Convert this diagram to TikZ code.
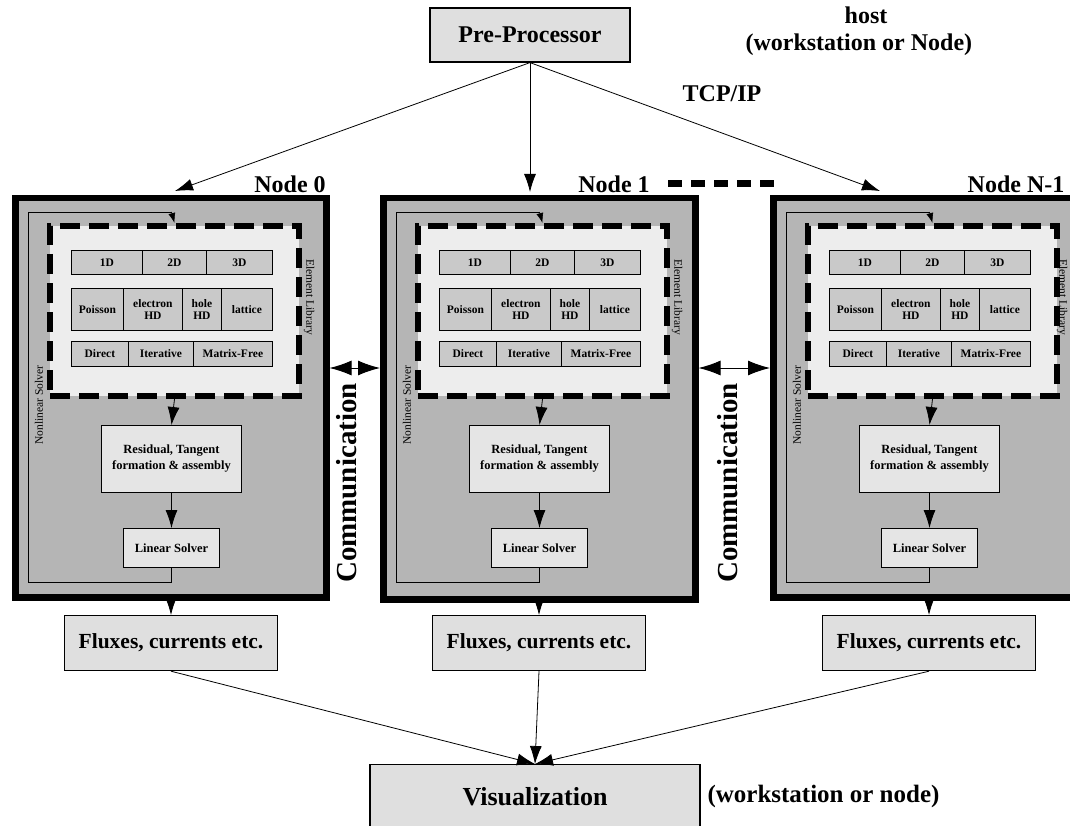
\documentclass[tikz,border=0pt]{standalone}
\usepackage{fontspec}
\setmainfont{Liberation Serif}
\usetikzlibrary{arrows.meta,calc}

\tikzset{
  bigtxt/.style={font=\bfseries\fontsize{24}{26}\selectfont},
  lbox/.style={draw=black, line width=1.2pt, fill=gray!25, inner sep=0pt},
  nodebox/.style={draw=black, line width=6.5pt, fill=gray!58, inner sep=0pt},
  libbox/.style={draw=black, line width=6pt, dash pattern=on 20pt off 9pt, fill=gray!14, inner sep=0pt},
  cell/.style={draw=black, line width=0.8pt, fill=gray!42, inner sep=0pt, anchor=north west,
    font=\bfseries\fontsize{11.5}{12}\selectfont, align=center},
  ibox/.style={draw=black, line width=0.8pt, fill=gray!20, inner sep=0pt, anchor=north,
    font=\bfseries\fontsize{12.5}{16}\selectfont, align=center},
  arr/.style={-{Latex[length=18pt,width=12pt]}, line width=0.8pt},
  sarr/.style={-{Latex[length=10pt,width=7pt]}, line width=0.6pt},
  commarr/.style={{Latex[length=22pt,width=15pt]}-{Latex[length=22pt,width=15pt]}, line width=1pt},
  loop/.style={line width=0.6pt},
  sidetxt/.style={font=\fontsize{11.5}{12}\selectfont, inner sep=1pt}
}

% #1 prefix, #2 left x, #3 width, #4 bottom y, #5 x of "Element Library"
\newcommand\NodeColumn[5]{%
\begin{scope}[xshift=#2pt]
  \node[nodebox, minimum width=#3pt, minimum height=#4pt-195pt, anchor=north west] (#1box) at (0,195) {};
  \node[libbox, minimum width=249pt, minimum height=170pt, anchor=north west] (#1lib) at (35,223) {};
  % row 1
  \node[cell, minimum width=71pt, minimum height=24pt] (#1c1) at (59,250) {1D};
  \node[cell, minimum width=64pt, minimum height=24pt] (#1c2) at (130,250) {2D};
  \node[cell, minimum width=66pt, minimum height=24pt] (#1c3) at (194,250) {3D};
  % row 2
  \node[cell, minimum width=52pt, minimum height=42pt] (#1c4) at (59,288) {Poisson};
  \node[cell, minimum width=59pt, minimum height=42pt] (#1c5) at (111,288) {electron\\HD};
  \node[cell, minimum width=39pt, minimum height=42pt] (#1c6) at (170,288) {hole\\HD};
  \node[cell, minimum width=51pt, minimum height=42pt] (#1c7) at (209,288) {lattice};
  % row 3
  \node[cell, minimum width=57pt, minimum height=25pt] (#1c8) at (59,341) {Direct};
  \node[cell, minimum width=65pt, minimum height=25pt] (#1c9) at (116,341) {Iterative};
  \node[cell, minimum width=79pt, minimum height=25pt] (#1c10) at (181,341) {Matrix-Free};
  % residual and linear solver
  \node[ibox, minimum width=140pt, minimum height=67pt] (#1res) at (159.5,425) {Residual, Tangent\\formation \& assembly};
  \node[ibox, minimum width=96pt, minimum height=39pt] (#1ls) at (159.5,528) {Linear Solver};
  \node[lbox, minimum width=213pt, minimum height=55pt, anchor=north,
        font=\bfseries\fontsize{21.5}{23}\selectfont] (#1flux) at (159,615) {Fluxes, currents etc.};
  % nonlinear solver loop
  \coordinate (#1lt) at (159.5,212);
  \coordinate (#1lb) at (16,582);
  \draw[loop] (#1ls.south) |- (#1lb) |- (#1lt);
  \draw[sarr] (#1lt) -- (#1lib.north);
  \draw[arr] (#1lib.south) -- (#1res.north);
  \draw[arr] (#1res.south) -- (#1ls.north);
  \draw[arr] (#1flux.north |- #1box.south) -- (#1flux.north);
  \node[sidetxt, rotate=90] (#1nls) at (27,405) {Nonlinear Solver};
  \node[sidetxt, rotate=-90] (#1elib) at (#5,297) {Element Library};
\end{scope}}

\begin{document}
\begin{tikzpicture}[x=1pt,y=-1pt]
\useasboundingbox (0,0) rectangle (1070,826);

% top
\node[lbox, minimum width=200pt, minimum height=54pt, bigtxt] (pre) at (530,35) {Pre-Processor};
\node[bigtxt] (host) at (866,15) {host};
\node[bigtxt, anchor=west] (ws) at (742,45) {(workstation or Node)};
\node[bigtxt] (tcp) at (722,94) {TCP/IP};

\NodeColumn{a}{12}{311}{594}{297}
\NodeColumn{b}{380}{312}{596}{297}
\NodeColumn{c}{770}{306}{594}{292}

\node[bigtxt] (lab0) at (290,184) {Node 0};
\node[bigtxt] (lab1) at (614,184) {Node 1};
\node[bigtxt] (lab2) at (1016,184) {Node N-1};
\coordinate (dashA) at (668,184);
\coordinate (dashB) at (776,184);
\draw[line width=7pt, dash pattern=on 14pt off 9pt] (dashA) -- (dashB);

\coordinate (tgt0) at (175,191);
\coordinate (tgt2) at (880,191);
\draw[arr] (pre.south) -- (tgt0);
\draw[arr] (pre.south) -- ($(pre.south |- bbox.north)+(0,-3)$);
\draw[arr] (pre.south) -- (tgt2);

% communication
\coordinate (commy) at (0,368);
\draw[commarr] (abox.east |- commy) -- (bbox.west |- commy);
\draw[commarr] (bbox.east |- commy) -- (cbox.west |- commy);
\node[font=\bfseries\fontsize{29}{30}\selectfont, rotate=90] (comm1) at (347,483) {Communication};
\node[font=\bfseries\fontsize{29}{30}\selectfont, rotate=90] (comm2) at (728,483) {Communication};

% bottom
\node[lbox, minimum width=330pt, minimum height=64pt, anchor=north,
      font=\bfseries\fontsize{26}{28}\selectfont] (vis) at (535,764) {Visualization};
\node[font=\bfseries\fontsize{25}{27}\selectfont, anchor=west] (ws2) at (704,796) {(workstation or node)};
\draw[arr] (aflux.south) -- (vis.north);
\draw[arr] (bflux.south) -- (vis.north);
\draw[arr] (cflux.south) -- (vis.north);
\end{tikzpicture}
\end{document}
